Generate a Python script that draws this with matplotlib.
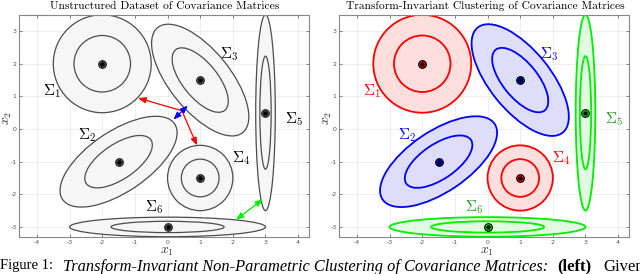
import numpy as np
import matplotlib
matplotlib.use("Agg")
import matplotlib.pyplot as plt
from matplotlib.patches import Ellipse

plt.rcParams['mathtext.fontset'] = 'cm'

# ellipse data: centres, std devs (major, minor), angle in degrees
names = ["1", "2", "3", "4", "5", "6"]
cx = [-2.0, -1.5, 1.0, 1.0, 3.0, 0.0]
cy = [2.0, -1.0, 1.5, -1.5, 0.5, -3.0]
sd_a = [1.0, 1.38, 1.38, 0.667, 0.2, 2.0]
sd_b = [1.0, 0.62, 0.62, 0.667, 2.0, 0.2]
angle = [0, 34, -51, 0, 0, 0]
contour_levels = [1.5, 0.866]   # outer, inner radius in std devs

# label positions
lab_x = [-3.82, -2.75, 1.6, 1.98, 3.6, -0.68]
lab_y = [1.15, -0.2, 2.3, -0.9, 0.3, -2.4]

# cluster colours on the right
clusters = ["red", "blue", "blue", "red", "green", "green"]
line_col = {"red": "#ff0000", "blue": "#0000ff", "green": "#00ee00"}
fill_col = {"red": "#ffdede", "blue": "#dedefa", "green": "#e2fae2"}
text_col = {"red": "#ff0000", "blue": "#0000ff", "green": "#22a022"}

# distance arrows on the left panel
red_arrows = [((0.44, 0.56), (-0.9, 0.95)), ((0.44, 0.56), (0.9, -0.5))]
blue_arrow = ((0.18, 0.29), (0.62, 0.72))
green_arrow = ((2.1, -2.78), (2.92, -2.15))

xticks = [-4, -3, -2, -1, 0, 1, 2, 3, 4]
yticks = [-3, -2, -1, 0, 1, 2, 3]

fig = plt.figure(figsize=(6.4, 2.74), dpi=100)


def setup(ax):
    ax.set_xlim(-4.54, 4.34)
    ax.set_ylim(-3.3, 3.5)
    ax.set_xticks(xticks)
    ax.set_yticks(yticks)
    ax.set_xticklabels([str(t) for t in xticks])
    ax.set_yticklabels([str(t) for t in yticks])
    ax.tick_params(direction='in', length=2, width=0.5, labelsize=4.5,
                   colors='#555555', top=True, right=True, pad=2)
    ax.grid(True, color='#e8e8e8', lw=0.5)
    ax.set_axisbelow(True)
    for s in ax.spines.values():
        s.set_color('#888888')
        s.set_linewidth(0.8)


def draw_ellipses(ax, right):
    for i in range(len(names)):
        if right:
            lc = line_col[clusters[i]]
            fc = fill_col[clusters[i]]
            lw = 1.3
        else:
            lc = '#4d4d4d'
            fc = '#f6f6f6'
            lw = 0.9
        for j, k in enumerate(contour_levels):
            e = Ellipse((cx[i], cy[i]), 2 * k * sd_a[i], 2 * k * sd_b[i], angle=angle[i],
                        facecolor=fc if j == 0 else 'none', edgecolor=lc, lw=lw, zorder=2 + j)
            ax.add_patch(e)
        if right:
            ax.plot(cx[i], cy[i], 'o', ms=5.5, mfc=lc, mec='black', mew=0.8, zorder=5)
        else:
            ax.plot(cx[i], cy[i], 'o', ms=5.5, mfc='#505050', mec='#222222', mew=0.8, zorder=5)
        ax.plot(cx[i], cy[i], 'o', ms=2.2, color='black', zorder=6)
        ax.text(lab_x[i], lab_y[i], r"$\Sigma_%s$" % names[i], fontsize=11,
                color=text_col[clusters[i]] if right else 'black',
                ha='left', va='center', zorder=7)


ax1 = fig.add_axes([0.0302, 0.136, 0.453, 0.810])
setup(ax1)
draw_ellipses(ax1, False)
for a, b in red_arrows:
    ax1.annotate("", xy=b, xytext=a,
                 arrowprops=dict(arrowstyle="-|>,head_length=0.45,head_width=0.18", color='#ff0000',
                                 lw=0.9, shrinkA=0, shrinkB=0), zorder=8)
ax1.annotate("", xy=blue_arrow[1], xytext=blue_arrow[0],
             arrowprops=dict(arrowstyle="<|-|>,head_length=0.45,head_width=0.18", color='#0000ff',
                             lw=0.9, shrinkA=0, shrinkB=0), zorder=9)
ax1.annotate("", xy=green_arrow[1], xytext=green_arrow[0],
             arrowprops=dict(arrowstyle="<|-|>,head_length=0.45,head_width=0.18", color='#00ee00',
                             lw=0.9, shrinkA=0, shrinkB=0), zorder=9)

ax2 = fig.add_axes([0.5302, 0.136, 0.453, 0.810])
setup(ax2)
draw_ellipses(ax2, True)

# titles and axis labels
fig.text(0.258, 0.978, "Unstructured Dataset of Covariance Matrices", family='cmr10',
         fontsize=8.3, ha='center', va='center')
fig.text(0.758, 0.978, "Transform-Invariant Clustering of Covariance Matrices", family='cmr10',
         fontsize=8.3, ha='center', va='center')
for xc in [0.261, 0.761]:
    fig.text(xc, 0.085, r"$x_1$", fontsize=10, ha='center', va='center', color='#333333')
    fig.text(xc - 0.25, 0.57, r"$x_2$", fontsize=10, ha='center', va='center', rotation=90,
             color='#333333')

# caption (cut off at the bottom edge like the source)
cap_y = 0.056
fig.text(0.0, cap_y, "Figure 1:", family='Liberation Serif', fontsize=10.5, ha='left', va='top')
fig.text(0.098, cap_y, "Transform-Invariant Non-Parametric Clustering of Covariance Matrices:",
         family='Liberation Serif', style='italic', fontsize=11.8, ha='left', va='top')
fig.text(0.870, cap_y, "(left)", family='Liberation Serif', weight='bold', fontsize=12,
         ha='left', va='top')
fig.text(0.942, cap_y, "Given", family='Liberation Serif', fontsize=12, ha='left', va='top')

fig.savefig("out.png", dpi=100)
